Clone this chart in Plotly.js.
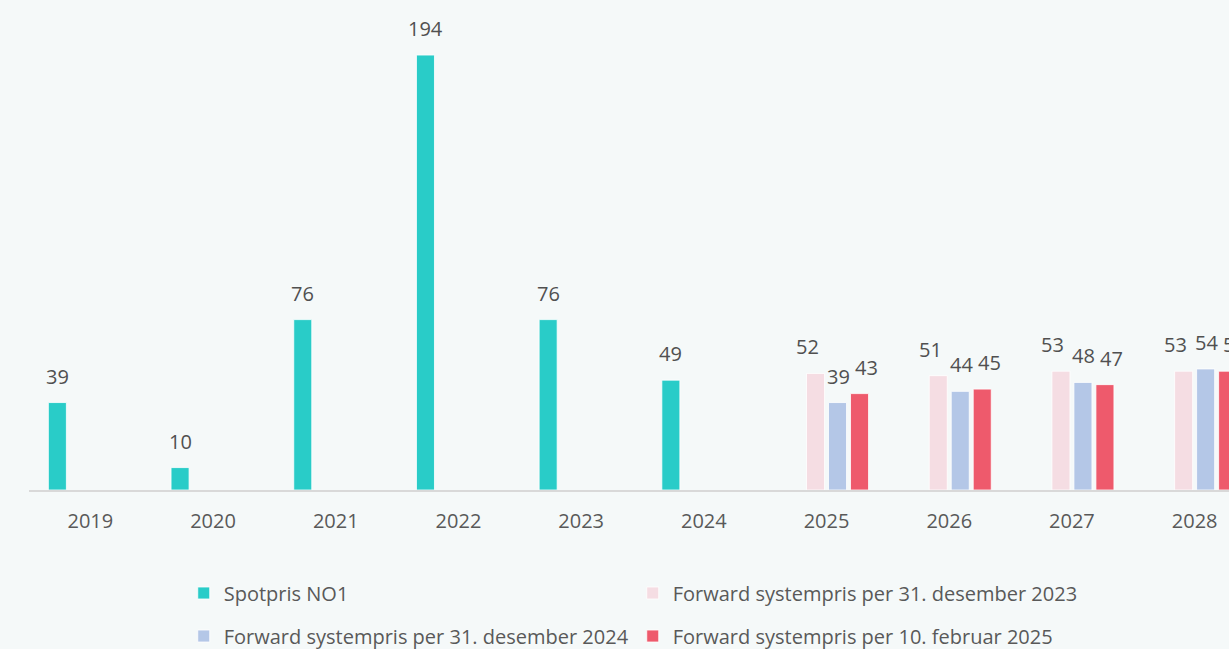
<!DOCTYPE html>
<html>
<head>
<meta charset="utf-8">
<script src="https://cdn.plot.ly/plotly-3.0.1.min.js"></script>
<style>html,body{margin:0;padding:0;background:#f5f9f9;overflow:hidden}#chart{width:1229px;height:649px}</style>
</head>
<body>
<div id="chart"></div>
<script>
const years = ["2019","2020","2021","2022","2023","2024","2025","2026","2027","2028"];
const spotNO1 = [39, 10, 76, 194, 76, 49, null, null, null, null];
const fwd2023 = [null, null, null, null, null, null, 52, 51, 53, 53];
const fwd2024 = [null, null, null, null, null, null, 39, 44, 48, 54];
const fwdFeb2025 = [null, null, null, null, null, null, 43, 45, 47, 53];
const seriesNames = ["Spotpris NO1", "Forward systempris per 31. desember 2023", "Forward systempris per 31. desember 2024", "Forward systempris per 10. februar 2025"];

const colors = ["#29ccc8", "#f5dde3", "#b4c7e7", "#ee5a6c"];
const legendIds = ["legend", "legend", "legend2", "legend2"];
const allSeries = [spotNO1, fwd2023, fwd2024, fwdFeb2025];
// horizontal pixel offsets of each series' value labels (bar slot + label nudge)
const labelShift = [-33, -19, 12, 40];
const FONT = "Open Sans, sans-serif";
const TXT = "#595959";

const traces = allSeries.map((vals, i) => ({
  type: "bar",
  name: seriesNames[i],
  x: years,
  y: vals,
  marker: {color: colors[i], line: {color: "#ffffff", width: 0.8}},
  legend: legendIds[i],
  hoverinfo: "skip",
  cliponaxis: false
}));

// data labels: x given as the category index on the category axis
const annotations = [];
allSeries.forEach((vals, i) => {
  vals.forEach((v, j) => {
    if (v === null) return;
    annotations.push({
      x: j, y: v, xref: "x", yref: "y",
      text: String(v), showarrow: false,
      xanchor: "center", yanchor: "bottom",
      xshift: labelShift[i], yshift: 11,
      font: {family: FONT, size: 20, color: "#505050"}
    });
  });
});

const layout = {
  width: 1229, height: 649,
  paper_bgcolor: "#f5f9f9", plot_bgcolor: "#f5f9f9",
  margin: {l: 29, r: 0, t: 10, b: 159},
  barmode: "group",
  bargap: 0.283,
  bargroupgap: 0.18,
  showlegend: true,
  font: {family: FONT, color: TXT},
  xaxis: {
    type: "category",
    range: [-0.5, 9.28],
    showline: true, linecolor: "#d9d9d9", linewidth: 1.5,
    showgrid: false, zeroline: false,
    ticks: "outside", ticklen: 12, tickcolor: "rgba(0,0,0,0)",
    tickfont: {family: FONT, size: 20, color: TXT},
    fixedrange: true
  },
  yaxis: {
    range: [0, 214.1],
    showticklabels: false, showline: false, ticks: "",
    showgrid: false, zeroline: false,
    fixedrange: true
  },
  legend: {
    orientation: "h", xref: "container", yref: "container",
    x: 0.1495, xanchor: "left", y: 0.0863, yanchor: "middle",
    entrywidth: 404, entrywidthmode: "pixels",
    font: {family: FONT, size: 20, color: TXT},
    bgcolor: "rgba(0,0,0,0)"
  },
  legend2: {
    orientation: "h", xref: "container", yref: "container",
    x: 0.1495, xanchor: "left", y: 0.02, yanchor: "middle",
    entrywidth: 404, entrywidthmode: "pixels",
    font: {family: FONT, size: 20, color: TXT},
    bgcolor: "rgba(0,0,0,0)"
  },
  annotations: annotations
};

Plotly.newPlot("chart", traces, layout, {displayModeBar: false, staticPlot: true});
</script>
</body>
</html>
